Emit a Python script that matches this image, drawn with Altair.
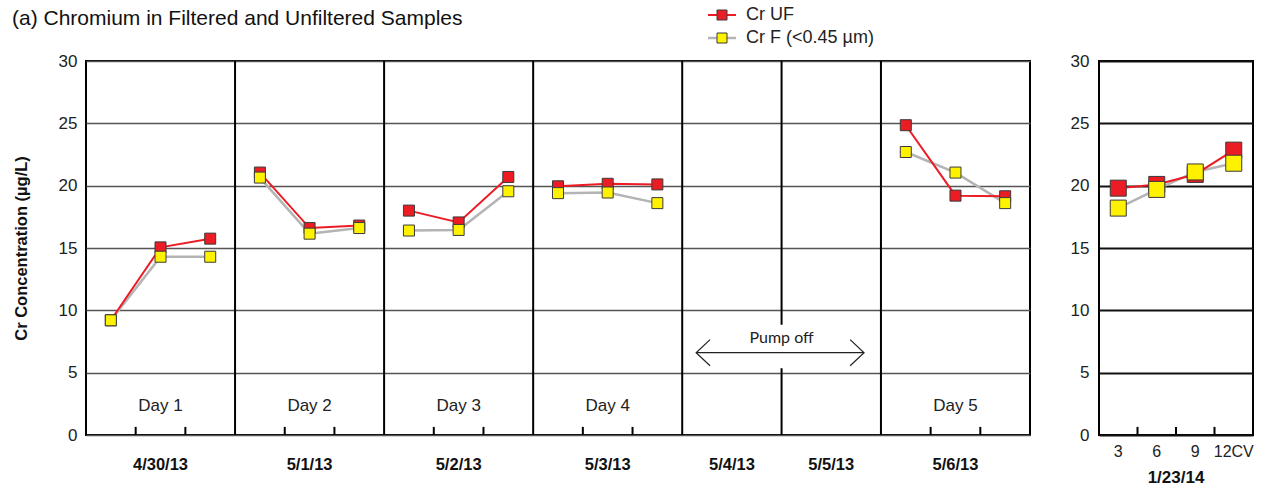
import altair as alt
import pandas as pd

# ---- Left panel: sampling days, three samples per day on a 19-slot axis ----
slot_x = [0.5, 1.5, 2.5, 3.5, 4.5, 5.5, 6.5, 7.5, 8.5, 9.5, 10.5, 11.5, 16.5, 17.5, 18.5]
slot_day = ["Day 1"] * 3 + ["Day 2"] * 3 + ["Day 3"] * 3 + ["Day 4"] * 3 + ["Day 5"] * 3
cr_uf = [9.2, 15.05, 15.75, 21.05, 16.6, 16.8, 18.0, 17.05, 20.7, 19.95, 20.15, 20.1, 24.85, 19.2, 19.15]
cr_f = [9.2, 14.3, 14.3, 20.65, 16.15, 16.6, 16.4, 16.45, 19.55, 19.4, 19.45, 18.6, 22.7, 21.05, 18.6]

day_names = ["Day 1", "Day 2", "Day 3", "Day 4", "Day 5"]
day_centers = [1.5, 4.5, 7.5, 10.5, 17.5]
date_labels = ["4/30/13", "5/1/13", "5/2/13", "5/3/13", "5/4/13", "5/5/13", "5/6/13"]
date_centers = [1.5, 4.5, 7.5, 10.5, 13, 15, 17.5]
day_bounds = [3, 6, 9, 12, 14, 16]
minor_ticks = [1, 2, 4, 5, 7, 8, 10, 11, 17, 18]

# "Pump off" annotation (double-headed arrow across 5/4 and 5/5)
pump_text = "Pump off"
pump_from, pump_to, pump_level = 12.28, 15.66, 6.6
pump_label_x, pump_label_y = 14.0, 7.75

# ---- Right panel: 1/23/14 purge volumes ----
cv_labels = ["3", "6", "9", "12CV"]
cv_x = [0.5, 1.5, 2.5, 3.5]
cv_uf = [19.8, 20.1, 20.9, 22.85]
cv_f = [18.2, 19.7, 21.1, 21.8]
cv_ticks = [1, 2, 3]

legend_names = ["Cr UF", "Cr F (<0.45 µm)"]
title_text = "(a) Chromium in Filtered and Unfiltered Samples"
y_title = "Cr Concentration (µg/L)"

RED = "#ec1c24"
GREY = "#b4b4b4"
YELLOW = "#fff200"
EDGE = "#3a3a3a"
FONT = "Liberation Sans"

W_L, W_R, H = 944, 154, 374

# ---------------- left panel ----------------
left_axis = alt.Axis(
    values=[0, 5, 10, 15, 20, 25, 30], title=y_title, titleFontSize=16.5, titleFontWeight="bold",
    titleColor="#111", titlePadding=29, labelFontSize=17, labelColor="#222", labelPadding=9,
    ticks=False, tickSize=0, domain=False, grid=True, gridColor="#555555", gridWidth=1.5,
)
yl = alt.Y("y:Q", scale=alt.Scale(domain=[0, 30], nice=False, zero=False), axis=left_axis)
xl = alt.X("x:Q", scale=alt.Scale(domain=[0, 19], nice=False, zero=False), axis=None)

samples = pd.DataFrame({"x": slot_x * 2, "y": cr_uf + cr_f, "day": slot_day * 2,
                        "series": ["UF"] * len(slot_x) + ["F"] * len(slot_x)})
uf_df = samples[samples.series == "UF"]
f_df = samples[samples.series == "F"]

bounds_df = pd.DataFrame({"x": day_bounds, "y": [0] * len(day_bounds), "y2": [30] * len(day_bounds)})
ticks_df = pd.DataFrame({"x": minor_ticks, "y": [0] * len(minor_ticks), "y2": [0.65] * len(minor_ticks)})
days_df = pd.DataFrame({"x": day_centers, "y": [2.35] * len(day_centers), "t": day_names})
dates_df = pd.DataFrame({"x": date_centers, "t": date_labels})

grid_base = alt.Chart(bounds_df).mark_rule(color="black", strokeWidth=2).encode(
    x=xl, y=yl, y2="y2:Q")
tick_marks = alt.Chart(ticks_df).mark_rule(color="black", strokeWidth=2).encode(
    x=xl, y=yl, y2="y2:Q")

# white patch behind the annotation so the separator breaks around it
patch = alt.Chart(pd.DataFrame({"x": [pump_from], "x2": [pump_to], "y": [5.35], "y2": [8.85]})).mark_rect(
    color="white").encode(x=xl, x2="x2:Q", y=yl, y2="y2:Q")
shaft = alt.Chart(pd.DataFrame({"x": [pump_from], "x2": [pump_to], "y": [pump_level]})).mark_rule(
    color="#222", strokeWidth=1.2).encode(x=xl, x2="x2:Q", y=yl)
dx, dy = 0.28, 1.05
heads = pd.DataFrame({
    "x": [pump_from + dx, pump_from, pump_from + dx, pump_to - dx, pump_to, pump_to - dx],
    "y": [pump_level + dy, pump_level, pump_level - dy] * 2,
    "g": ["l"] * 3 + ["r"] * 3, "o": [0, 1, 2] * 2,
})
arrow_heads = alt.Chart(heads).mark_line(color="#222", strokeWidth=1.2).encode(
    x=xl, y=yl, detail="g:N", order="o:Q")
pump_label = alt.Chart(pd.DataFrame({"x": [pump_label_x], "y": [pump_label_y], "t": [pump_text]})).mark_text(
    font="Lato", fontSize=16, color="#222", baseline="middle").encode(x=xl, y=yl, text="t:N")

f_line = alt.Chart(f_df).mark_line(color=GREY, strokeWidth=2.5).encode(x=xl, y=yl, detail="day:N")
uf_line = alt.Chart(uf_df).mark_line(color=RED, strokeWidth=2).encode(x=xl, y=yl, detail="day:N")
uf_pts = alt.Chart(uf_df).mark_point(shape="square", filled=True, fill=RED, stroke=EDGE, strokeWidth=1,
                                     size=121, opacity=1).encode(x=xl, y=yl)
f_pts = alt.Chart(f_df).mark_point(shape="square", filled=True, fill=YELLOW, stroke=EDGE, strokeWidth=1,
                                   size=121, opacity=1).encode(x=xl, y=yl)

day_text = alt.Chart(days_df).mark_text(fontSize=17, color="#222", baseline="middle").encode(
    x=xl, y=yl, text="t:N")
date_text = alt.Chart(dates_df).mark_text(fontSize=16.5, fontWeight="bold", color="#111",
                                          baseline="middle").encode(
    x=xl, y=alt.value(H + 30), text="t:N")

title_mark = alt.Chart(pd.DataFrame({"t": [title_text]})).mark_text(
    fontSize=21, color="#111", align="left", baseline="middle").encode(
    x=alt.value(-74), y=alt.value(-42), text="t:N")

# hand-drawn legend: line with a square marker, then the label
legend_layers = []
for i, (name, col, fill, sw) in enumerate(zip(legend_names, [RED, GREY], [RED, YELLOW], [2, 2.5])):
    ly = -46 + 23 * i
    row = pd.DataFrame({"t": [name]})
    legend_layers.append(alt.Chart(row).mark_rule(color=col, strokeWidth=sw).encode(
        x=alt.value(622), x2=alt.value(650), y=alt.value(ly)))
    legend_layers.append(alt.Chart(row).mark_point(shape="square", filled=True, fill=fill, stroke=EDGE,
                                                   strokeWidth=1, size=100, opacity=1).encode(
        x=alt.value(636), y=alt.value(ly)))
    legend_layers.append(alt.Chart(row).mark_text(fontSize=18, color="#222", align="left",
                                                  baseline="middle").encode(
        x=alt.value(660), y=alt.value(ly), text="t:N"))

left = alt.layer(
    grid_base, tick_marks, patch, shaft, arrow_heads, pump_label,
    f_line, uf_line, uf_pts, f_pts, day_text, date_text, title_mark, *legend_layers,
).properties(width=W_L, height=H)

# ---------------- right panel ----------------
right_axis = alt.Axis(
    values=[0, 5, 10, 15, 20, 25, 30], title=None, labelFontSize=17, labelColor="#222", labelPadding=10,
    ticks=False, tickSize=0, domain=False, grid=True, gridColor="#111", gridWidth=2,
)
yr = alt.Y("y:Q", scale=alt.Scale(domain=[0, 30], nice=False, zero=False), axis=right_axis)
xr = alt.X("x:Q", scale=alt.Scale(domain=[0, 4], nice=False, zero=False), axis=None)

cv_df = pd.DataFrame({"x": cv_x * 2, "y": cv_uf + cv_f, "series": ["UF"] * 4 + ["F"] * 4})
cv_uf_df = cv_df[cv_df.series == "UF"]
cv_f_df = cv_df[cv_df.series == "F"]
cv_ticks_df = pd.DataFrame({"x": cv_ticks, "y": [0] * 3, "y2": [0.65] * 3})
cv_lab_df = pd.DataFrame({"x": cv_x, "t": cv_labels})

r_ticks = alt.Chart(cv_ticks_df).mark_rule(color="black", strokeWidth=2).encode(x=xr, y=yr, y2="y2:Q")
r_f_line = alt.Chart(cv_f_df).mark_line(color=GREY, strokeWidth=2.5).encode(x=xr, y=yr)
r_uf_line = alt.Chart(cv_uf_df).mark_line(color=RED, strokeWidth=2).encode(x=xr, y=yr)
r_uf_pts = alt.Chart(cv_uf_df).mark_point(shape="square", filled=True, fill=RED, stroke=EDGE, strokeWidth=1,
                                          size=256, opacity=1).encode(x=xr, y=yr)
r_f_pts = alt.Chart(cv_f_df).mark_point(shape="square", filled=True, fill=YELLOW, stroke=EDGE, strokeWidth=1,
                                        size=256, opacity=1).encode(x=xr, y=yr)
r_labels = alt.Chart(cv_lab_df).mark_text(fontSize=16, color="#222", baseline="middle").encode(
    x=xr, y=alt.value(H + 17), text="t:N")
r_date = alt.Chart(pd.DataFrame({"t": ["1/23/14"]})).mark_text(
    fontSize=17, fontWeight="bold", color="#111", baseline="middle").encode(
    x=alt.value(W_R / 2), y=alt.value(H + 43), text="t:N")

right = alt.layer(r_ticks, r_f_line, r_uf_line, r_uf_pts, r_f_pts, r_labels, r_date).properties(
    width=W_R, height=H)

chart = alt.hconcat(left, right, spacing=38).properties(
    padding={"left": 11, "top": 5, "right": 5, "bottom": 0},
    background="white",
).configure(font=FONT).configure_view(stroke="black", strokeWidth=2)

chart.save("out.html", embed_options={"renderer": "svg", "actions": False})
